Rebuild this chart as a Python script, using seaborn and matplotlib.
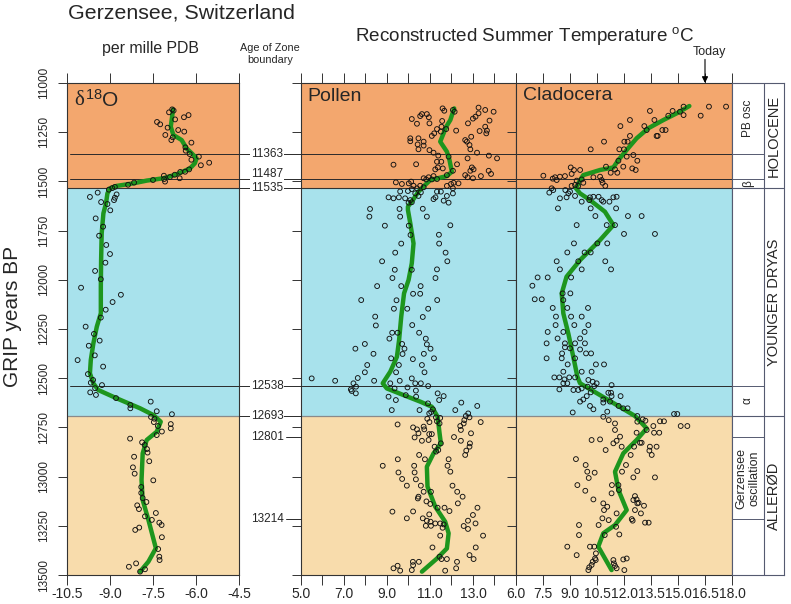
import numpy as np
import pandas as pd
import matplotlib
matplotlib.use("Agg")
import matplotlib.pyplot as plt
import matplotlib.transforms as mtransforms
from matplotlib.lines import Line2D
import seaborn as sns

# ---------------- data ----------------
# zones (GRIP years BP)
zone_names = ["HOLOCENE", "YOUNGER DRYAS", "ALLERØD"]
zone_top = [11000, 11535, 12693]
zone_bottom = [11535, 12693, 13500]
zone_colors = ["#F3A76E", "#A8E2EC", "#F8DCAC"]

boundary_labels = [11363, 11487, 11535, 12538, 12693, 12801, 13214]
cross_lines = [11363, 11487, 12538]
sub_zone_names = ["PB osc", "β", "α", "Gerzensee\noscillation"]
sub_zone_top = [11000, 11487, 12538, 12801]
sub_zone_bottom = [11363, 11535, 12693, 13214]

today_temp = 16.5

# delta 18O (per mille PDB)
d18o_age = [11134, 11140, 11149, 11174, 11163, 11198, 11210, 11185, 11227, 11239, 11247, 11264, 11276, 11290,
            11303, 11327, 11344, 11361, 11390, 11374, 11418, 11405, 11439, 11451, 11452, 11466, 11478, 11471,
            11484, 11488, 11501, 11493, 11506, 11517, 11528, 11534, 11542, 11579, 11557, 11566, 11583, 11595,
            11605, 11615, 11647, 11688, 11730, 11776, 11823, 11869, 11913, 11955, 11997, 12040, 12076, 12113,
            12152, 12192, 12238, 12275, 12309, 12335, 12384, 12408, 12441, 12479, 12509, 12523, 12535, 12551,
            12572, 12585, 12601, 12636, 12653, 12619, 12668, 12683, 12697, 12706, 12723, 12743, 12733, 12755,
            12771, 12789, 12807, 12826, 12839, 12860, 12878, 12899, 12922, 12953, 12985, 13019, 13053, 13083,
            13109, 13129, 13146, 13165, 13185, 13202, 13220, 13234, 13246, 13259, 13271, 13308, 13368, 13407,
            13424, 13441, 13458, 13471, 13483]
d18o_val = [-6.83, -6.78, -6.94, -6.42, -6.26, -7.36, -7.25, -6.73, -6.99, -6.62, -6.41, -7.07, -6.81, -6.86,
            -6.16, -6.37, -6.36, -6.22, -6.16, -5.90, -5.83, -5.54, -6.24, -6.38, -6.55, -6.74, -6.91, -7.12,
            -6.57, -7.11, -7.08, -7.50, -8.16, -8.37, -8.83, -8.92, -9.04, -9.70, -9.43, -8.77, -8.83, -8.86,
            -9.31, -9.09, -8.99, -9.50, -9.24, -9.38, -9.13, -9.00, -9.16, -9.52, -9.32, -10.01, -8.62, -8.91,
            -9.15, -9.32, -9.85, -9.56, -9.36, -9.74, -9.53, -10.13, -9.24, -9.77, -9.59, -9.67, -9.28, -9.52,
            -9.69, -9.49, -8.79, -8.29, -8.29, -7.58, -7.37, -6.84, -7.57, -7.45, -7.47, -7.33, -6.88, -6.88,
            -7.19, -7.37, -8.30, -7.88, -7.79, -7.71, -7.69, -8.16, -7.63, -8.20, -8.14, -7.49, -7.91, -7.91,
            -7.86, -7.73, -8.05, -7.99, -7.40, -7.78, -7.54, -7.28, -7.20, -7.98, -8.12, -7.19, -7.32, -7.28,
            -7.27, -8.09, -8.34, -7.78, -7.95]
d18o_fit_age = [11134, 11222, 11264, 11290, 11332, 11357, 11383, 11408, 11434, 11464, 11484, 11496, 11510, 11523,
                11535, 11561, 11612, 11662, 11764, 11900, 12035, 12170, 12238, 12323, 12408, 12475, 12526, 12560,
                12602, 12653, 12687, 12721, 12772, 12814, 12882, 13017, 13119, 13220, 13364, 13432, 13483]
d18o_fit_val = [-6.80, -6.88, -6.79, -6.50, -6.33, -6.15, -5.98, -6.04, -6.21, -6.67, -7.14, -7.72, -8.19, -8.77,
                -9.00, -9.09, -9.14, -9.23, -9.29, -9.31, -9.32, -9.32, -9.46, -9.58, -9.67, -9.70, -9.58, -9.41,
                -8.77, -7.95, -7.49, -7.23, -7.37, -7.72, -7.86, -7.90, -7.86, -7.66, -7.40, -7.66, -7.95]

# Pollen-inferred summer temperature
pollen_age = [11129, 11141, 11137, 11146, 11125, 11137, 11146, 11154, 11191, 11171, 11181, 11205, 11222, 11242,
              11244, 11256, 11158, 11158, 11174, 11168, 11183, 11205, 11207, 11193, 11222, 11234, 11247, 11234,
              11242, 11256, 11269, 11281, 11296, 11281, 11298, 11312, 11318, 11337, 11341, 11354, 11315, 11337,
              11298, 11290, 11273, 11354, 11369, 11383, 11383, 11369, 11374, 11400, 11400, 11413, 11429, 11434,
              11439, 11415, 11413, 11429, 11439, 11446, 11446, 11462, 11473, 11468, 11479, 11484, 11446, 11468,
              11473, 11479, 11484, 11490, 11490, 11488, 11505, 11513, 11501, 11510, 11522, 11522, 11530, 11535,
              11539, 11549, 11551, 11581, 11581, 11586, 11586, 11595, 11608, 11606, 11561, 11556, 11574, 11552,
              11523, 11535, 11561, 11510, 11507, 11513, 11574, 11598, 11608, 11590, 11581, 11552,
              11640, 11679, 11640, 11679, 11639, 11679, 11725, 11723, 11725, 11772, 11771, 11816, 11816, 11862,
              11862, 11906, 11906, 11949, 11949, 11947, 11991, 11991, 12032, 12032, 12032, 12071, 12071, 12103,
              12104, 12103, 12147, 12147, 12147, 12187, 12189, 12232, 12230, 12269, 12269, 12269, 12299, 12299,
              12328, 12326, 12326, 12350, 12350, 12350, 12376, 12377, 12376, 12399, 12399, 12403,
              12433, 12433, 12433, 12470, 12470, 12470, 12513, 12501, 12513, 12499, 12526, 12543, 12557, 12565,
              12577, 12526, 12513, 12501, 12526, 12526, 12540, 12552, 12547, 12563, 12594, 12611, 12586, 12594,
              12577, 12591, 12611, 12624, 12641, 12628, 12658, 12672, 12662, 12679, 12662, 12662, 12679, 12699,
              12702, 12719, 12730, 12706, 12723, 12692, 12699, 12723, 12713, 12730, 12743, 12763, 12735, 12750,
              12760, 12746, 12780, 12760, 12784, 12784, 12780, 12801, 12818, 12814, 12799, 12818, 12831, 12848,
              12868, 12890, 12848, 12831, 12865, 12873, 12890, 12912, 12912, 12945, 12945, 12912, 12945, 12979,
              12979, 12975, 13012, 13014, 13046, 13046, 13046, 13077, 13077, 13077, 13102, 13111, 13102, 13126,
              13139, 13158, 13158, 13175, 13136, 13158, 13178, 13177, 13192, 13195, 13212, 13212, 13224, 13229,
              13250, 13250, 13238, 13238, 13243, 13260, 13224, 13251, 13238, 13266, 13300, 13300, 13360, 13360,
              13399, 13419, 13407, 13419, 13419, 13433, 13466, 13453, 13478, 13475, 13433, 13433, 13450, 13466,
              13478]
pollen_temp = [11.59, 11.67, 12.07, 12.15, 13.26, 13.57, 13.96, 13.26, 13.77, 13.12, 13.00, 12.77, 13.57, 13.65,
               13.31, 13.62, 10.63, 10.86, 10.95, 10.55, 10.16, 10.98, 10.40, 11.57, 11.54, 11.33, 11.51, 11.76,
               12.22, 11.20, 11.09, 10.09, 10.09, 10.47, 10.71, 10.43, 10.71, 10.47, 10.98, 11.17, 12.84, 12.88,
               12.72, 12.64, 12.92, 13.19, 13.74, 14.12, 12.75, 11.39, 11.87, 11.33, 11.53, 12.26, 11.37, 11.60,
               11.25, 9.31, 10.36, 12.95, 13.03, 12.88, 13.73, 13.84, 13.37, 12.64, 12.75, 13.00, 12.07, 11.79,
               11.17, 10.94, 10.71, 10.83, 11.09, 11.33, 9.42, 9.70, 10.13, 10.02, 10.24, 10.55, 10.71, 10.40,
               10.16, 9.98, 9.62, 9.56, 9.08, 9.31, 9.85, 10.09, 10.01, 10.16, 10.32, 10.58, 10.47, 11.51,
               11.79, 12.07, 12.07, 12.33, 12.10, 11.98, 11.79, 11.64, 11.87, 11.17, 11.26, 11.33,
               8.22, 8.19, 9.59, 9.62, 10.67, 10.86, 8.91, 11.95, 10.02, 10.10, 11.42, 9.67, 11.43, 9.39,
               11.73, 8.78, 11.81, 9.37, 10.16, 11.33, 9.26, 11.26, 8.55, 9.67, 10.57, 10.22, 10.55, 7.81,
               9.45, 11.34, 9.33, 9.95, 10.92, 8.46, 10.67, 8.49, 10.18, 9.25, 9.50, 10.50, 9.12, 10.81,
               10.86, 7.98, 9.71, 7.54, 9.82, 11.03, 8.38, 9.73, 10.72, 9.20, 11.19, 10.21,
               8.09, 9.56, 10.63, 7.98, 9.43, 10.75, 8.41, 5.51, 6.60, 7.65, 7.45, 7.57, 7.33, 7.37,
               7.56, 9.16, 9.60, 10.16, 10.32, 10.58, 10.92, 9.36, 9.96, 10.35, 9.08, 9.42, 9.88, 10.36,
               11.36, 11.64, 11.43, 12.46, 13.20, 10.91, 11.14, 11.06, 12.18, 12.78, 9.23, 10.52, 10.97, 11.28,
               11.48, 11.33, 11.45, 10.88, 10.98, 12.67, 12.84, 13.36, 12.60, 12.57, 12.41, 12.44, 9.50, 10.22,
               10.40, 10.71, 10.47, 10.74, 10.97, 11.09, 12.91, 10.29, 10.63, 10.94, 12.12, 12.44, 12.86, 12.84,
               12.69, 12.64, 11.22, 11.51, 11.39, 11.29, 10.50, 10.77, 9.51, 8.81, 10.27, 11.87, 11.82, 9.54,
               10.29, 11.95, 9.71, 10.35, 9.93, 12.05, 10.58, 12.27, 10.71, 11.05, 10.47, 10.44, 12.52, 10.84,
               11.02, 11.36, 11.68, 11.91, 12.30, 13.21, 9.26, 10.22, 10.97, 13.00, 9.93, 10.67, 10.86, 11.03,
               10.81, 11.05, 11.25, 11.48, 11.64, 11.59, 12.77, 12.57, 13.12, 12.77, 11.48, 13.47, 13.13, 11.12,
               12.84, 13.03, 11.45, 11.54, 11.79, 12.26, 9.31, 9.50, 9.62, 10.16, 10.21, 10.49, 10.22, 12.22,
               11.71]
pollen_fit_age = [11129, 11188, 11222, 11298, 11349, 11391, 11451, 11473, 11493, 11518, 11552, 11595, 11628,
                  11645, 11713, 11815, 11916, 12001, 12069, 12187, 12306, 12391, 12467, 12526, 12552, 12586,
                  12619, 12645, 12696, 12780, 12831, 12882, 12950, 13051, 13153, 13229, 13288, 13365, 13416, 13483]
pollen_fit_temp = [12.13, 11.95, 11.76, 11.48, 11.79, 11.91, 12.02, 11.79, 11.02, 10.78, 10.47, 10.21, 9.98,
                   9.98, 10.09, 10.24, 10.16, 10.01, 9.80, 9.67, 9.57, 9.47, 9.16, 8.81, 9.00, 9.78,
                   10.55, 11.09, 11.36, 11.45, 11.51, 11.17, 10.86, 10.89, 11.25, 11.71, 11.87, 11.79, 11.33, 10.63]

# Cladocera-inferred summer temperature
clad_age = [11120, 11120, 11166, 11120, 11163, 11146, 11142, 11166, 11188, 11142, 11188, 11219, 11219, 11239,
            11239, 11239, 11269, 11269, 11269, 11298, 11298, 11298, 11337, 11337, 11337, 11374, 11366, 11395,
            11395, 11425, 11434, 11442, 11425, 11439, 11456, 11456, 11429, 11442, 11442, 11462, 11473, 11476,
            11479, 11471, 11493, 11486, 11479, 11476, 11493, 11507, 11523, 11496, 11490, 11507, 11518, 11523,
            11523, 11535, 11557, 11544, 11544, 11561, 11552, 11581, 11586, 11574, 11603, 11581, 11578, 11578,
            11595, 11595, 11603, 11603, 11581, 11578, 11637, 11637, 11637, 11676, 11676, 11676, 11722, 11722,
            11722, 11767, 11767, 11815, 11815, 11815, 11861, 11861, 11861, 11906, 11906, 11906, 11947, 11947,
            11947, 12030, 11988, 11988, 11988, 12099, 12099, 12103, 12069, 12069, 12143, 12143, 12143, 12187,
            12187, 12187, 12230, 12230, 12230, 12265, 12265, 12265, 12298, 12298, 12323, 12323, 12323, 12323,
            12343, 12348, 12354, 12374, 12374, 12374, 12399, 12399, 12399,
            12430, 12430, 12430, 12467, 12467, 12467, 12496, 12496, 12506, 12496, 12496, 12526, 12526, 12557,
            12560, 12560, 12552, 12509, 12518, 12526, 12540, 12543, 12572, 12591, 12619, 12608, 12641, 12658,
            12674, 12608, 12535, 12574, 12574, 12591, 12591, 12624, 12619, 12641, 12653, 12653, 12670, 12696,
            12713, 12730, 12692, 12709, 12716, 12721, 12743, 12719, 12719, 12682, 12682, 12743, 12743, 12777,
            12777, 12763, 12777, 12828, 12828, 12848, 12848, 12890, 12868, 12848, 12890, 12848, 12797, 12818,
            12831, 12763, 12865, 12811, 12814, 12911, 12941, 12975, 12980, 13007, 13043, 13072, 13043, 13043,
            13068, 13085, 12941, 13004, 12975, 12972, 13004, 13099, 13119, 13116, 13136, 13170, 13133, 13148,
            13187, 13234, 13234, 13224, 13216, 13116, 13136, 13170, 13153, 13187, 13212, 13221, 13246, 13255,
            13294, 13297, 13246, 13297, 13356, 13399, 13356, 13356, 13390, 13416, 13424, 13433, 13449, 13461,
            13475, 13424, 13441, 13454, 13466, 13421, 13416, 13475]
clad_temp = [16.72, 17.67, 16.26, 15.31, 15.31, 15.11, 14.70, 14.46, 13.69, 13.44, 12.33, 11.80, 13.13, 13.26,
             14.13, 14.31, 13.81, 13.87, 12.33, 10.89, 12.02, 12.20, 10.15, 11.74, 12.00, 12.15, 12.52, 12.74,
             11.69, 11.96, 12.46, 12.65, 11.00, 11.50, 11.63, 11.26, 9.04, 9.22, 9.56, 9.09, 8.72, 8.44,
             8.17, 7.52, 8.26, 8.04, 10.30, 10.67, 10.76, 10.81, 10.96, 9.37, 9.65, 9.74, 9.28, 9.46,
             9.09, 7.98, 7.85, 8.07, 8.74, 8.91, 9.00, 8.81, 8.44, 9.28, 9.65, 10.11, 10.30, 10.59,
             10.76, 10.07, 10.85, 11.19, 11.41, 11.59, 11.56, 10.15, 8.33, 10.41, 12.22, 12.98, 9.37, 11.04,
             11.50, 12.00, 13.72, 9.22, 10.52, 11.07, 8.85, 9.81, 10.15, 8.26, 9.46, 10.96, 8.44, 9.65,
             11.28, 6.91, 7.20, 7.76, 9.06, 7.04, 7.43, 8.63, 8.59, 9.02, 8.04, 8.85, 10.00, 8.22,
             9.06, 9.65, 8.20, 9.24, 10.02, 7.76, 8.63, 9.81, 8.31, 9.56, 7.70, 8.72, 9.28, 9.83,
             8.72, 9.00, 9.56, 9.89, 10.17, 8.56, 7.70, 8.54, 9.28,
             8.87, 10.44, 10.89, 8.63, 9.65, 10.20, 8.13, 8.41, 8.69, 8.96, 9.28, 8.63, 8.85, 8.41,
             9.19, 9.46, 9.65, 10.02, 10.26, 10.48, 10.35, 9.98, 10.15, 9.93, 9.56, 9.74, 10.11, 10.30,
             9.15, 10.85, 11.31, 11.13, 11.28, 11.31, 11.81, 10.85, 11.22, 11.70, 11.96, 12.20, 11.07, 10.85,
             11.15, 11.50, 12.74, 13.04, 13.19, 12.74, 13.63, 14.00, 14.22, 14.78, 14.96, 15.15, 15.52, 13.96,
             13.67, 13.26, 12.70, 12.89, 12.98, 13.81, 13.44, 13.54, 13.41, 12.56, 12.37, 11.87, 11.78, 11.59,
             11.41, 11.50, 10.98, 10.67, 10.20, 9.33, 9.87, 9.96, 10.37, 10.04, 9.41, 9.85, 11.33, 11.69,
             11.72, 11.31, 12.11, 12.52, 11.89, 12.74, 13.72, 12.61, 12.52, 12.70, 12.74, 12.61, 12.81, 13.11,
             12.94, 13.17, 13.37, 12.48, 12.43, 10.30, 10.85, 10.89, 11.07, 11.59, 10.80, 11.15, 10.59, 11.56,
             11.74, 10.93, 9.50, 9.50, 8.85, 9.37, 10.11, 10.35, 10.44, 10.39, 10.43, 10.26, 10.20, 10.07,
             10.02, 11.41, 11.44, 11.50, 11.59, 11.96, 12.15, 12.02]
clad_fit_age = [11117, 11154, 11188, 11230, 11281, 11340, 11391, 11429, 11442, 11468, 11493, 11535, 11561, 11595,
                11654, 11722, 11798, 11900, 11984, 12069, 12171, 12274, 12408, 12492, 12526, 12586, 12636, 12692,
                12755, 12814, 12882, 12975, 13068, 13170, 13246, 13288, 13356, 13475]
clad_fit_temp = [15.63, 14.93, 14.19, 13.35, 12.70, 12.15, 11.69, 11.41, 10.67, 9.74, 9.56, 9.33, 9.56, 10.11,
                 10.94, 11.41, 10.67, 9.56, 8.81, 8.54, 8.63, 8.91, 9.22, 9.41, 9.56, 10.67, 11.59, 12.61,
                 13.26, 12.70, 11.96, 11.50, 11.69, 12.15, 11.50, 10.85, 10.57, 11.31]

d18o_ticks = [-10.5, -9.0, -7.5, -6.0, -4.5]
pollen_ticks = [5, 6, 7, 8, 9, 10, 11, 12, 13, 14, 15]
pollen_ticklabels = ["5.0", "", "7.0", "", "9.0", "", "11.0", "", "13.0", "", ""]
clad_ticks = [6.0, 7.5, 9.0, 10.5, 12.0, 13.5, 15.0, 16.5, 18.0]
age_ticks = [11000, 11250, 11500, 11750, 12000, 12250, 12500, 12750, 13000, 13250, 13500]

# ---------------- style ----------------
sns.set_style("ticks")
plt.rcParams["font.family"] = ["Liberation Sans", "DejaVu Sans"]
plt.rcParams["mathtext.fontset"] = "custom"
plt.rcParams["mathtext.rm"] = "Liberation Sans"
plt.rcParams["mathtext.it"] = "Liberation Sans:italic"
plt.rcParams["axes.unicode_minus"] = False

GREEN = "#1E961E"
EDGE = "#333333"
LINEC = "#2a2a2a"

W, H = 791, 604
fig = plt.figure(figsize=(W / 100, H / 100), dpi=100)


def rect(x0, x1, y0, y1):
    return [x0 / W, 1 - y1 / H, (x1 - x0) / W, (y1 - y0) / H]


ax_d = fig.add_axes(rect(67, 239, 83, 575))
ax_p = fig.add_axes(rect(300.7, 516, 83, 575))
ax_c = fig.add_axes(rect(516, 732, 83, 575))
ax_s = fig.add_axes(rect(732, 784, 83, 575))


def panel(ax, ages, vals, fit_ages, fit_vals, xlim, xticks, xticklabels, left_xmin=0.0):
    for z0, z1, col in zip(zone_top, zone_bottom, zone_colors):
        ax.axhspan(z0, z1, color=col, lw=0, zorder=0)
    for b in cross_lines:
        ax.axhline(b, xmin=left_xmin, color=LINEC, lw=0.7, zorder=1)
    ax.axhline(zone_bottom[0], color="#333333", lw=0.8, zorder=1)
    ax.axhline(zone_bottom[1], color="#8a8a8a", lw=0.9, zorder=1)
    fit_df = pd.DataFrame({"age": fit_ages, "val": fit_vals})
    sns.lineplot(data=fit_df, x="val", y="age", sort=False, estimator=None, ax=ax,
                 color=GREEN, lw=3.2, zorder=3)
    df = pd.DataFrame({"age": ages, "val": vals})
    sns.scatterplot(data=df, x="val", y="age", ax=ax, marker="o", s=12, linewidth=0.65, zorder=4)
    coll = ax.collections[-1]
    coll.set_facecolor("none")
    coll.set_edgecolor("#111111")
    ax.set_xlim(*xlim)
    ax.set_ylim(13500, 11000)
    ax.set_xlabel("")
    ax.set_ylabel("")
    ax.set_xticks(xticks)
    ax.set_xticklabels(xticklabels)
    ax.set_yticks(age_ticks)
    ax.tick_params(axis="x", direction="out", length=7, width=0.7, color=EDGE, labelsize=10,
                   pad=2, top=True, labeltop=False, bottom=True)
    ax.tick_params(axis="y", direction="out", length=6.5, width=0.7, color=EDGE, labelsize=8.5,
                   left=True, right=False)
    for sp in ax.spines.values():
        sp.set_visible(True)
        sp.set_color(EDGE)
        sp.set_linewidth(0.8)


panel(ax_d, d18o_age, d18o_val, d18o_fit_age, d18o_fit_val, (-10.5, -4.5), d18o_ticks,
      ["%.1f" % t for t in d18o_ticks], left_xmin=0.015)
panel(ax_p, pollen_age, pollen_temp, pollen_fit_age, pollen_fit_temp, (5, 15), pollen_ticks,
      pollen_ticklabels)
panel(ax_c, clad_age, clad_temp, clad_fit_age, clad_fit_temp, (6, 18), clad_ticks,
      ["%.1f" % t for t in clad_ticks])

ax_d.set_yticklabels([str(t) for t in age_ticks])
for lab in ax_d.get_yticklabels():
    lab.set_rotation(90)
    lab.set_va("center")
    lab.set_ha("right")
ax_d.tick_params(axis="y", pad=6)
ax_p.set_yticklabels([])
ax_c.set_yticklabels([])

# panel labels
ax_d.text(0.04, 0.965, "δ", transform=ax_d.transAxes, fontsize=15, va="center", ha="left",
          family=["Liberation Serif", "DejaVu Serif"])
ax_d.text(0.105, 0.965, r"$^{\mathregular{18}}$O", transform=ax_d.transAxes, fontsize=15, va="center",
          ha="left")
ax_p.text(0.033, 0.972, "Pollen", transform=ax_p.transAxes, fontsize=14, va="center", ha="left")
ax_c.text(0.032, 0.975, "Cladocera", transform=ax_c.transAxes, fontsize=14, va="center", ha="left")

# Today marker
ax_c.annotate("", xy=(today_temp, 11000), xytext=(0, 17), textcoords="offset points",
              arrowprops=dict(arrowstyle="-|>", color="black", lw=0.8, mutation_scale=9,
                              shrinkA=0, shrinkB=0), annotation_clip=False)
ax_c.annotate("Today", xy=(today_temp, 11000), xytext=(3, 22), textcoords="offset points",
              ha="center", va="center", fontsize=9, annotation_clip=False)

# boundary labels between panels
blend = mtransforms.blended_transform_factory(fig.transFigure, ax_d.transData)
for b in boundary_labels:
    if b in (12801, 13214):
        x0 = 286 / W
    else:
        x0 = 239 / W
    fig.add_artist(Line2D([x0, 300.7 / W], [b, b], transform=blend, color=LINEC, lw=0.7))
    off = 3.2 if b == 11487 else 0
    tr = mtransforms.offset_copy(blend, fig=fig, x=0, y=off, units="points")
    fig.text(267 / W, b, str(b), transform=tr, fontsize=8.5, ha="center", va="center",
             bbox=dict(fc="white", ec="none", pad=0.6))

# stratigraphic column
ax_s.set_xlim(0, 1)
ax_s.set_ylim(13500, 11000)
ax_s.set_xticks([])
ax_s.set_yticks([])
for sp in ax_s.spines.values():
    sp.set_visible(True)
    sp.set_color("#555a70")
    sp.set_linewidth(0.8)
split = 0.615
ax_s.axvline(split, color="#555a70", lw=0.8)
for b in [zone_bottom[0], zone_bottom[1]]:
    ax_s.axhline(b, color="#555a70", lw=0.8)
for b in [11363, 11487, 12538, 12801, 13214]:
    ax_s.axhline(b, xmax=split, color="#555a70", lw=0.7)
for name, z0, z1 in zip(zone_names, zone_top, zone_bottom):
    ax_s.text((1 + split) / 2, (z0 + z1) / 2, name, rotation=90, ha="center", va="center", fontsize=10.5)
for name, z0, z1 in zip(sub_zone_names, sub_zone_top, sub_zone_bottom):
    fs = 9 if "\n" in name else 8.5
    ax_s.text(split / 2, (z0 + z1) / 2, name, rotation=90, ha="center", va="center", fontsize=fs,
              linespacing=1.05)

# titles
fig.text(181 / W, 1 - 13 / H, "Gerzensee, Switzerland", fontsize=15.4, ha="center", va="center")
fig.text(150 / W, 1 - 48 / H, "per mille PDB", fontsize=11.4, ha="center", va="center")
fig.text(270 / W, 1 - 54 / H, "Age of Zone\nboundary", fontsize=7.8, ha="center", va="center",
         linespacing=1.2)
fig.text(525 / W, 1 - 36 / H, "Reconstructed Summer Temperature $^{\\mathregular{o}}$C", fontsize=13.6,
         ha="center", va="center")
fig.text(13 / W, 1 - 316 / H, "GRIP years BP", fontsize=15, rotation=90, ha="center", va="center")

fig.savefig("out.png", dpi=100)
